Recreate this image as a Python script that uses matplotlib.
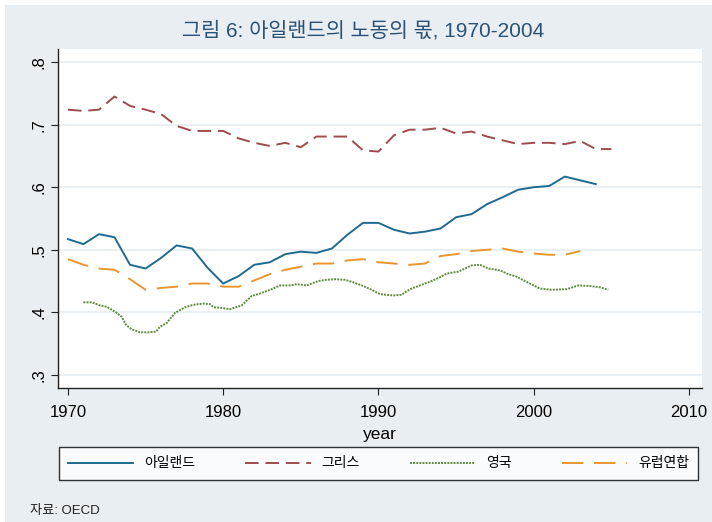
import numpy as np
import matplotlib
matplotlib.use("Agg")
import matplotlib.pyplot as plt
from matplotlib.patches import Rectangle

plt.rcParams["font.family"] = ["Liberation Sans", "Noto Sans CJK KR", "DejaVu Sans"]

# labour share
years_ie = list(range(1970, 2005))
ireland = [0.517, 0.509, 0.525, 0.520, 0.476, 0.470, 0.487, 0.507, 0.502, 0.471,
           0.446, 0.458, 0.476, 0.480, 0.493, 0.497, 0.495, 0.502, 0.524, 0.543,
           0.543, 0.532, 0.526, 0.529, 0.534, 0.552, 0.557, 0.573, 0.584, 0.596,
           0.600, 0.602, 0.617, 0.611, 0.605]

years_gr = list(range(1970, 2006))
greece = [0.724, 0.722, 0.724, 0.745, 0.730, 0.724, 0.717, 0.698, 0.690, 0.690,
          0.690, 0.678, 0.671, 0.666, 0.671, 0.664, 0.681, 0.681, 0.681, 0.659,
          0.657, 0.683, 0.692, 0.692, 0.695, 0.686, 0.689, 0.681, 0.675, 0.669,
          0.671, 0.671, 0.669, 0.674, 0.661, 0.661]

years_uk = [1971.0, 1971.53, 1972.06, 1972.49, 1973.03, 1973.46, 1973.74, 1974.10,
            1974.64, 1975.17, 1975.67, 1975.93, 1976.36, 1976.89, 1977.54, 1978.07,
            1978.72, 1979.15, 1979.40, 1979.90, 1980.43, 1981.19, 1981.83, 1982.37,
            1983.12, 1983.66, 1984.30, 1984.73, 1985.38, 1986.12, 1986.66, 1987.20,
            1987.84, 1988.38, 1989.02, 1989.56, 1990.10, 1990.95, 1991.49, 1992.03,
            1992.67, 1993.32, 1993.96, 1994.39, 1995.14, 1995.57, 1996.00, 1996.54,
            1997.07, 1997.83, 1998.26, 1998.90, 1999.76, 2000.40, 2001.16, 2002.12,
            2002.87, 2003.62, 2004.27, 2004.80]
uk = [0.416, 0.416, 0.411, 0.409, 0.401, 0.393, 0.380, 0.373, 0.368, 0.368,
      0.369, 0.377, 0.383, 0.399, 0.408, 0.412, 0.414, 0.413, 0.408, 0.407,
      0.405, 0.411, 0.426, 0.430, 0.437, 0.443, 0.443, 0.445, 0.443, 0.450,
      0.452, 0.453, 0.452, 0.448, 0.442, 0.436, 0.429, 0.427, 0.428, 0.437,
      0.443, 0.449, 0.456, 0.462, 0.465, 0.470, 0.475, 0.476, 0.470, 0.467,
      0.462, 0.457, 0.446, 0.438, 0.436, 0.437, 0.443, 0.442, 0.440, 0.436]

years_eu = list(range(1970, 2004))
eu = [0.485, 0.476, 0.470, 0.468, 0.453, 0.436, 0.439, 0.441, 0.446, 0.446,
      0.441, 0.441, 0.451, 0.461, 0.468, 0.473, 0.478, 0.478, 0.483, 0.485,
      0.480, 0.478, 0.476, 0.478, 0.490, 0.493, 0.498, 0.500, 0.502, 0.497,
      0.494, 0.492, 0.492, 0.498]

yticks = [0.3, 0.4, 0.5, 0.6, 0.7, 0.8]
ytick_labels = [".3", ".4", ".5", ".6", ".7", ".8"]
xticks = [1970, 1980, 1990, 2000, 2010]

BG = "#e8eef2"
fig = plt.figure(figsize=(7.12, 5.22), dpi=100, facecolor="white")
fig.patches.append(Rectangle((5 / 712, 0), 1, 1 - 5 / 522, transform=fig.transFigure,
                             facecolor=BG, edgecolor="none", zorder=-10))
ax = fig.add_axes([58 / 712, 1 - 388 / 522, 644 / 712, 339 / 522])
ax.set_facecolor("white")

ax.plot(years_ie, ireland, color="#1f6a8f", lw=1.4, label="아일랜드")
ax.plot(years_gr, greece, color="#9e4c4c", lw=1.4, ls=(0, (7, 3.5)), label="그리스")
ax.plot(years_uk, uk, color="#5e8a3e", lw=1.4, ls=(0, (1, 0.6)), label="영국")
ax.plot(years_eu, eu, color="#e8962e", lw=1.4, ls=(0, (11, 5.5)), label="유럽연합")

ax.set_xlim(1969.36, 2010.84)
ax.set_ylim(0.279, 0.821)
ax.set_yticks(yticks)
ax.set_yticklabels(ytick_labels, rotation=90, va="center", fontsize=12)
ax.set_xticks(xticks)
ax.tick_params(axis="x", labelsize=12, length=5, pad=7, color="#222222")
ax.tick_params(axis="y", length=5, color="#222222")
ax.grid(axis="y", color=BG, lw=1.3)
ax.set_axisbelow(True)
for s in ("top", "right"):
    ax.spines[s].set_visible(False)
for s in ("left", "bottom"):
    ax.spines[s].set_color("#222222")
    ax.spines[s].set_linewidth(1.0)
ax.set_xlabel("year", fontsize=12.5, labelpad=5)

fig.text(0.51, 1 - 31 / 522, "그림 6: 아일랜드의 노동의 몫, 1970-2004",
         ha="center", va="center", fontsize=15, color="#2c5275")

leg = ax.legend(loc="center", bbox_to_anchor=(378.5 / 712, 1 - 463.5 / 522), bbox_transform=fig.transFigure,
                ncol=4, frameon=True, fancybox=False, edgecolor="black", fontsize=10,
                handlelength=4.7, columnspacing=3.6, handletextpad=0.8, borderpad=0.65)
leg.get_frame().set_linewidth(1.0)

fig.text(30 / 712, 1 - 511 / 522, "자료: OECD", ha="left", va="center", fontsize=9.5, color="#222222")

fig.savefig("out.png", dpi=100, facecolor=fig.get_facecolor())
